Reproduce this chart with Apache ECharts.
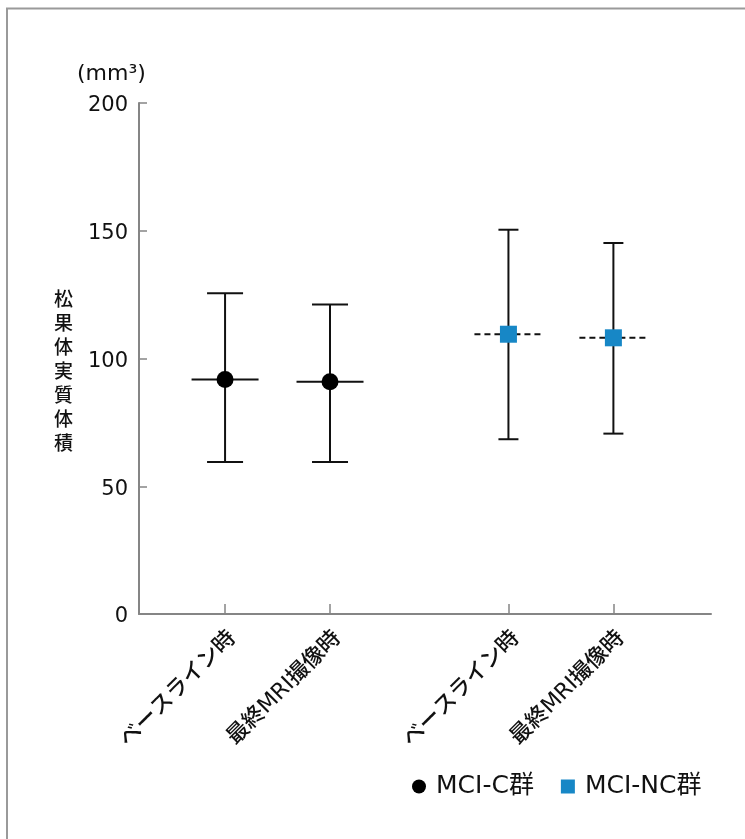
<!DOCTYPE html>
<html><head><meta charset="utf-8">
<script src="https://cdn.jsdelivr.net/npm/echarts@6/dist/echarts.min.js"></script>
<style>html,body{margin:0;padding:0;background:#fff}#c{width:745px;height:839px}</style>
</head><body><div id="c"></div>
<script>
// category labels and positions (slot positions along the x axis)
const categories = ['ベースライン時', '最終MRI撮像時', 'ベースライン時', '最終MRI撮像時'];
const slotPos = [1, 2, 3.7, 4.7];
// MCI-C群 (slots 0,1)
const cMean = [91.8, 90.9];
const cLow = [59.5, 59.5];
const cHigh = [125.5, 121.1];
// MCI-NC群 (slots 2,3)
const ncMean = [109.5, 108.1];
const ncLow = [68.4, 70.6];
const ncHigh = [150.4, 145.2];
const yTicks = [0, 50, 100, 150, 200];
const seriesNames = ['MCI-C群', 'MCI-NC群'];

const FONT = '"DejaVu Sans", "Noto Sans CJK JP", sans-serif';
const CJK = '"Noto Sans CJK JP", "DejaVu Sans", sans-serif';
const BLUE = '#1787c6';
const INK = '#111';

function errData(means, lows, highs, offset) {
  return means.map((m, i) => [slotPos[offset + i], m, lows[i], highs[i]]);
}

function makeRender(capW, meanW, dashed) {
  return function (params, api) {
    const x = api.value(0);
    const top = api.coord([x, api.value(3)]);
    const bot = api.coord([x, api.value(2)]);
    const mid = api.coord([x, api.value(1)]);
    const style = { stroke: INK, lineWidth: 2 };
    return {
      type: 'group',
      children: [
        { type: 'line', shape: { x1: top[0], y1: top[1], x2: bot[0], y2: bot[1] }, style },
        { type: 'line', shape: { x1: top[0] - capW / 2, y1: top[1], x2: top[0] + capW / 2, y2: top[1] }, style },
        { type: 'line', shape: { x1: bot[0] - capW / 2, y1: bot[1], x2: bot[0] + capW / 2, y2: bot[1] }, style },
        { type: 'line', shape: { x1: mid[0] - meanW / 2, y1: mid[1], x2: mid[0] + meanW / 2, y2: mid[1] },
          style: dashed ? { stroke: INK, lineWidth: 2, lineDash: [6, 4] } : style }
      ]
    };
  };
}

const chart = echarts.init(document.getElementById('c'));
chart.setOption({
  backgroundColor: '#fff',
  textStyle: { fontFamily: FONT },
  animation: false,
  grid: { left: 139, right: 34, top: 103, bottom: 225, containLabel: false },
  xAxis: {
    type: 'value', min: 0.18, max: 5.63,
    splitLine: { show: false },
    axisLine: { lineStyle: { color: '#858585', width: 2 } },
    axisTick: { inside: true, length: 10, lineStyle: { color: '#858585', width: 1.5 }, customValues: slotPos },
    axisLabel: {
      customValues: slotPos, rotate: 45, margin: 13, fontSize: 22, color: INK, fontFamily: FONT, fontWeight: 500,
      verticalAlign: 'top',
      formatter: v => { const i = slotPos.findIndex(p => Math.abs(p - v) < 1e-6); return i >= 0 ? categories[i] : ''; }
    }
  },
  yAxis: {
    type: 'value', min: 0, max: 200, interval: 50,
    splitLine: { show: false },
    axisLine: { show: true, lineStyle: { color: '#858585', width: 2 } },
    axisTick: { show: true, inside: true, length: 8, lineStyle: { color: '#858585', width: 1.5 } },
    axisLabel: { fontSize: 21, color: INK, margin: 11, fontFamily: FONT,
      formatter: v => yTicks.includes(v) ? '{t|' + v + '}' : '',
      rich: { t: { fontSize: 21, color: INK, fontFamily: FONT, padding: [6, 0, 0, 0] } } }
  },
  legend: {
    left: 407, top: 769, itemWidth: 14, itemHeight: 14, itemGap: 27,
    textStyle: { fontSize: 25, color: INK, fontFamily: FONT, padding: [0, 0, 0, 5] },
    data: [{ name: seriesNames[0], icon: 'circle' }, { name: seriesNames[1], icon: 'rect' }]
  },
  graphic: [
    { type: 'rect', shape: { x: 7, y: 8.5, width: 900, height: 1000 }, style: { fill: 'none', stroke: '#9a9a9a', lineWidth: 2 }, silent: true },
    { type: 'text', left: 77, top: 63, style: { text: '(mm³)', fontSize: 22, fill: INK, fontFamily: FONT } },
    { type: 'text', left: 54, top: 287, style: { text: '松\n果\n体\n実\n質\n体\n積', fontSize: 19, lineHeight: 24, fill: INK, fontFamily: CJK, fontWeight: 500 } }
  ],
  series: [
    { type: 'custom', name: 'errC', renderItem: makeRender(36, 67, false), data: errData(cMean, cLow, cHigh, 0), z: 2, legendHoverLink: false },
    { type: 'custom', name: 'errNC', renderItem: makeRender(20, 68, true), data: errData(ncMean, ncLow, ncHigh, 2), z: 2, legendHoverLink: false },
    { type: 'scatter', name: seriesNames[0], symbol: 'circle', symbolSize: 17, itemStyle: { color: '#000', opacity: 1 },
      data: cMean.map((m, i) => [slotPos[i], m]), z: 5 },
    { type: 'scatter', name: seriesNames[1], symbol: 'rect', symbolSize: 17, itemStyle: { color: BLUE, opacity: 1 },
      data: ncMean.map((m, i) => [slotPos[2 + i], m]), z: 5 }
  ]
});
</script></body></html>
